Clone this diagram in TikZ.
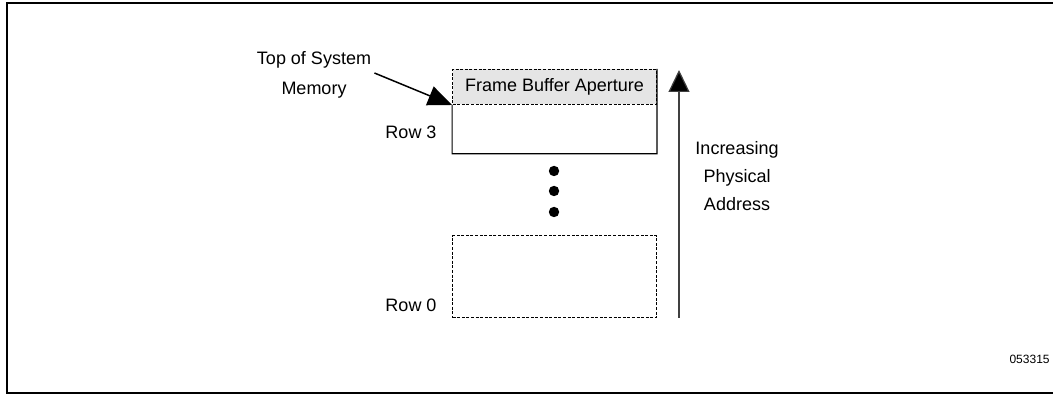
\documentclass[tikz,border=0pt]{standalone}
\usepackage{fontspec}
\setmainfont{Liberation Sans}
\usetikzlibrary{arrows.meta,positioning}

\tikzstyle{aperture} = [draw=black, line width=0.5pt, dash pattern=on 1.5pt off 0.8pt,
  fill=black!10, minimum width=102pt, minimum height=17.5pt, inner sep=0pt]
\tikzstyle{rowbody} = [minimum width=102pt, minimum height=24pt, inner sep=0pt]
\tikzstyle{emptyrow} = [draw=black, line width=0.55pt, dash pattern=on 1.5pt off 0.8pt,
  minimum width=102pt, minimum height=41pt, inner sep=0pt]
\tikzstyle{texto} = [align=center, inner sep=0pt]
\tikzset{
    addr arrow/.style={draw=black!75, line width=0.6pt,
        -{Triangle[length=11pt,width=10.5pt,fill=black]}},
    top arrow/.style={draw=black, line width=0.75pt,
        -{Triangle[length=12pt,width=10pt]}}}

\begin{document}
\begin{tikzpicture}[x=0.5pt, y=-0.5pt, font=\fontsize{9}{15}\selectfont]
\useasboundingbox (0,0) rectangle (1053,394);
\clip (0,0) rectangle (1053,394);
% Outer frame (runs off the right edge)
\draw[line width=1pt] (1080,3) -- (7,3) -- (7,393) -- (1080,393);

% Memory rows
\node (ap) [aperture, anchor=north west] at (452,69) {Frame Buffer Aperture};
\node (r3) [rowbody, below=0pt of ap] {};
\draw[line width=0.6pt] (ap.north east) -- (r3.south east) -- (r3.south west) -- (r3.north west);
\node (r0) [emptyrow, anchor=north west] at (452,235) {};

% Row labels
\node (lbl3) [texto] at (411,132) {Row 3};
\node (lbl0) [texto] at (411,305) {Row 0};

% Dots between the rows
\foreach \yy in {171,191,212}
  \fill (554,\yy) circle (2.6pt);

% Top of system memory
\node (topmem) [texto] at (314,75) {Top of System\\Memory};
\draw[top arrow] ([xshift=1.5pt,yshift=1pt]topmem.east) -- (ap.south west);

% Increasing address arrow
\coordinate (abot) at (679,318);
\coordinate (atop) at (679,70);
\draw[addr arrow] (abot) -- (atop);
\node (incr) [texto, font=\fontsize{9}{14}\selectfont] at (737,176) {Increasing\\Physical\\Address};

% Figure number
\node (figid) [anchor=east, inner sep=0pt, font=\fontsize{6}{7}\selectfont] at (1050,359) {053315};
\end{tikzpicture}
\end{document}
